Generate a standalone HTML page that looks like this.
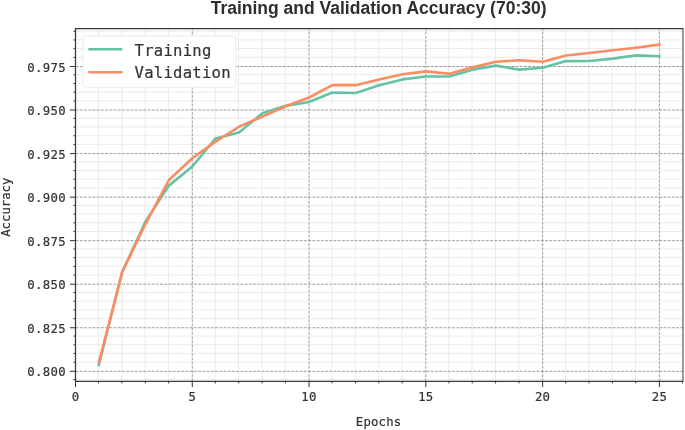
<!DOCTYPE html>
<html><head><meta charset="utf-8"><title>Training and Validation Accuracy (70:30)</title>
<style>html,body{margin:0;padding:0;background:#ffffff;width:685px;height:430px;overflow:hidden}svg{display:block}</style>
</head><body>
<svg width="685" height="430" viewBox="0 0 685 430">
<rect x="0" y="0" width="685" height="430" fill="#ffffff"/>
<defs><clipPath id="ax"><rect x="75.5" y="28.6" width="607.5" height="352.79999999999995"/></clipPath></defs>
<g clip-path="url(#ax)">
<path d="M98.41 381.4V28.6M121.76 381.4V28.6M145.12 381.4V28.6M168.47 381.4V28.6M215.19 381.4V28.6M238.54 381.4V28.6M261.90 381.4V28.6M285.25 381.4V28.6M331.97 381.4V28.6M355.32 381.4V28.6M378.68 381.4V28.6M402.03 381.4V28.6M448.75 381.4V28.6M472.10 381.4V28.6M495.46 381.4V28.6M518.81 381.4V28.6M565.53 381.4V28.6M588.88 381.4V28.6M612.24 381.4V28.6M635.59 381.4V28.6M682.31 381.4V28.6M75.5 379.51H683.0M75.5 362.09H683.0M75.5 353.38H683.0M75.5 344.67H683.0M75.5 335.97H683.0M75.5 318.55H683.0M75.5 309.84H683.0M75.5 301.13H683.0M75.5 292.42H683.0M75.5 275.01H683.0M75.5 266.30H683.0M75.5 257.59H683.0M75.5 248.88H683.0M75.5 231.46H683.0M75.5 222.76H683.0M75.5 214.05H683.0M75.5 205.34H683.0M75.5 187.92H683.0M75.5 179.21H683.0M75.5 170.50H683.0M75.5 161.80H683.0M75.5 144.38H683.0M75.5 135.67H683.0M75.5 126.96H683.0M75.5 118.25H683.0M75.5 100.84H683.0M75.5 92.13H683.0M75.5 83.42H683.0M75.5 74.71H683.0M75.5 57.29H683.0M75.5 48.59H683.0M75.5 39.88H683.0M75.5 31.17H683.0" stroke="#e9e9e9" stroke-width="0.9" fill="none"/>
<path d="M75.50 381.4V28.6M192.28 381.4V28.6M309.06 381.4V28.6M425.84 381.4V28.6M542.62 381.4V28.6M659.40 381.4V28.6M75.5 371.30H683.0M75.5 327.76H683.0M75.5 284.21H683.0M75.5 240.67H683.0M75.5 197.13H683.0M75.5 153.59H683.0M75.5 110.04H683.0M75.5 66.50H683.0" stroke="#8c8c8c" stroke-width="0.85" stroke-dasharray="2.955 1.275" fill="none"/>
<polyline points="98.86,365.03 122.21,272.02 145.57,221.34 168.92,185.63 192.28,166.48 215.64,138.43 238.99,132.51 262.35,113.35 285.70,105.86 309.06,102.03 332.42,92.45 355.77,92.98 379.13,85.31 402.48,79.39 425.84,76.43 449.20,76.43 472.55,69.64 495.91,65.63 519.26,69.64 542.62,67.72 565.98,61.10 589.33,60.93 612.69,58.66 636.04,55.36 659.40,56.23" fill="none" stroke="#66c2a5" stroke-width="2.6" stroke-linejoin="round" stroke-linecap="square"/>
<polyline points="98.86,362.59 122.21,272.02 145.57,223.78 168.92,180.06 192.28,158.29 215.64,141.57 238.99,126.77 262.35,116.66 285.70,106.21 309.06,97.50 332.42,85.14 355.77,85.14 379.13,79.39 402.48,74.17 425.84,71.38 449.20,73.82 472.55,67.37 495.91,61.80 519.26,60.23 542.62,61.80 565.98,55.53 589.33,52.92 612.69,50.30 636.04,47.69 659.40,44.56" fill="none" stroke="#fc8d62" stroke-width="2.6" stroke-linejoin="round" stroke-linecap="square"/>
</g>
<path d="M75.5 381.4H683.0M75.5 28.6H683.0M75.5 28.0V382.0" fill="none" stroke="#383838" stroke-width="1.25"/>
<path d="M683.0 28.0V382.0" fill="none" stroke="#404040" stroke-width="1.0"/>
<path d="M75.50 381.4v5.6M98.56 381.4v2.0M121.91 381.4v2.0M145.27 381.4v2.0M168.62 381.4v2.0M192.28 381.4v5.6M215.34 381.4v2.0M238.69 381.4v2.0M262.05 381.4v2.0M285.40 381.4v2.0M309.06 381.4v5.6M332.12 381.4v2.0M355.47 381.4v2.0M378.83 381.4v2.0M402.18 381.4v2.0M425.84 381.4v5.6M448.90 381.4v2.0M472.25 381.4v2.0M495.61 381.4v2.0M518.96 381.4v2.0M542.62 381.4v5.6M565.68 381.4v2.0M589.03 381.4v2.0M612.39 381.4v2.0M635.74 381.4v2.0M659.40 381.4v5.6M682.46 381.4v2.0M75.5 379.61h-2.0M75.5 371.30h-5.6M75.5 362.19h-2.0M75.5 353.48h-2.0M75.5 344.77h-2.0M75.5 336.07h-2.0M75.5 327.76h-5.6M75.5 318.65h-2.0M75.5 309.94h-2.0M75.5 301.23h-2.0M75.5 292.52h-2.0M75.5 284.22h-5.6M75.5 275.11h-2.0M75.5 266.40h-2.0M75.5 257.69h-2.0M75.5 248.98h-2.0M75.5 240.67h-5.6M75.5 231.56h-2.0M75.5 222.86h-2.0M75.5 214.15h-2.0M75.5 205.44h-2.0M75.5 197.13h-5.6M75.5 188.02h-2.0M75.5 179.31h-2.0M75.5 170.60h-2.0M75.5 161.90h-2.0M75.5 153.59h-5.6M75.5 144.48h-2.0M75.5 135.77h-2.0M75.5 127.06h-2.0M75.5 118.35h-2.0M75.5 110.05h-5.6M75.5 100.94h-2.0M75.5 92.23h-2.0M75.5 83.52h-2.0M75.5 74.81h-2.0M75.5 66.50h-5.6M75.5 57.39h-2.0M75.5 48.69h-2.0M75.5 39.98h-2.0M75.5 31.27h-2.0" stroke="#333333" stroke-width="1" fill="none"/>
<g font-family='"DejaVu Sans Mono", "Liberation Mono", monospace' font-size="12.3" letter-spacing="0.3" fill="#333333" stroke="#333333" stroke-width="0.2">
<text x="75.50" y="400.6" text-anchor="middle">0</text>
<text x="192.28" y="400.6" text-anchor="middle">5</text>
<text x="309.06" y="400.6" text-anchor="middle">10</text>
<text x="425.84" y="400.6" text-anchor="middle">15</text>
<text x="542.62" y="400.6" text-anchor="middle">20</text>
<text x="659.40" y="400.6" text-anchor="middle">25</text>
<text x="65.9" y="376.30" text-anchor="end">0.800</text>
<text x="65.9" y="332.76" text-anchor="end">0.825</text>
<text x="65.9" y="289.21" text-anchor="end">0.850</text>
<text x="65.9" y="245.67" text-anchor="end">0.875</text>
<text x="65.9" y="202.13" text-anchor="end">0.900</text>
<text x="65.9" y="158.59" text-anchor="end">0.925</text>
<text x="65.9" y="115.04" text-anchor="end">0.950</text>
<text x="65.9" y="71.50" text-anchor="end">0.975</text>
</g>
<text x="378.6" y="426.2" text-anchor="middle" font-family='"DejaVu Sans Mono", "Liberation Mono", monospace' font-size="12.3" letter-spacing="0.2" fill="#333333" stroke="#333333" stroke-width="0.2">Epochs</text>
<text transform="translate(9.8 207.2) rotate(-90)" x="0" y="0" text-anchor="middle" font-family='"DejaVu Sans Mono", "Liberation Mono", monospace' font-size="12.3" fill="#333333" stroke="#333333" stroke-width="0.2">Accuracy</text>
<text x="378.6" y="14.2" text-anchor="middle" font-family='"Liberation Sans", Arial, sans-serif' font-weight="bold" font-size="17.5" fill="#2e2e2e">Training and Validation Accuracy (70:30)</text>
<rect x="83" y="36" width="153" height="51.3" rx="3.5" ry="3.5" fill="#ffffff" stroke="#ebebeb" stroke-width="1"/>
<path d="M88.3 49.3H122.4" stroke="#66c2a5" stroke-width="2.4"/>
<path d="M88.3 72.2H122.4" stroke="#fc8d62" stroke-width="2.4"/>
<g font-family='"DejaVu Sans Mono", "Liberation Mono", monospace' font-size="15.6" letter-spacing="0.25" fill="#333333" stroke="#333333" stroke-width="0.2">
<text x="134.5" y="55.5">Training</text>
<text x="134.5" y="77.9">Validation</text>
</g>
</svg>
</body></html>
